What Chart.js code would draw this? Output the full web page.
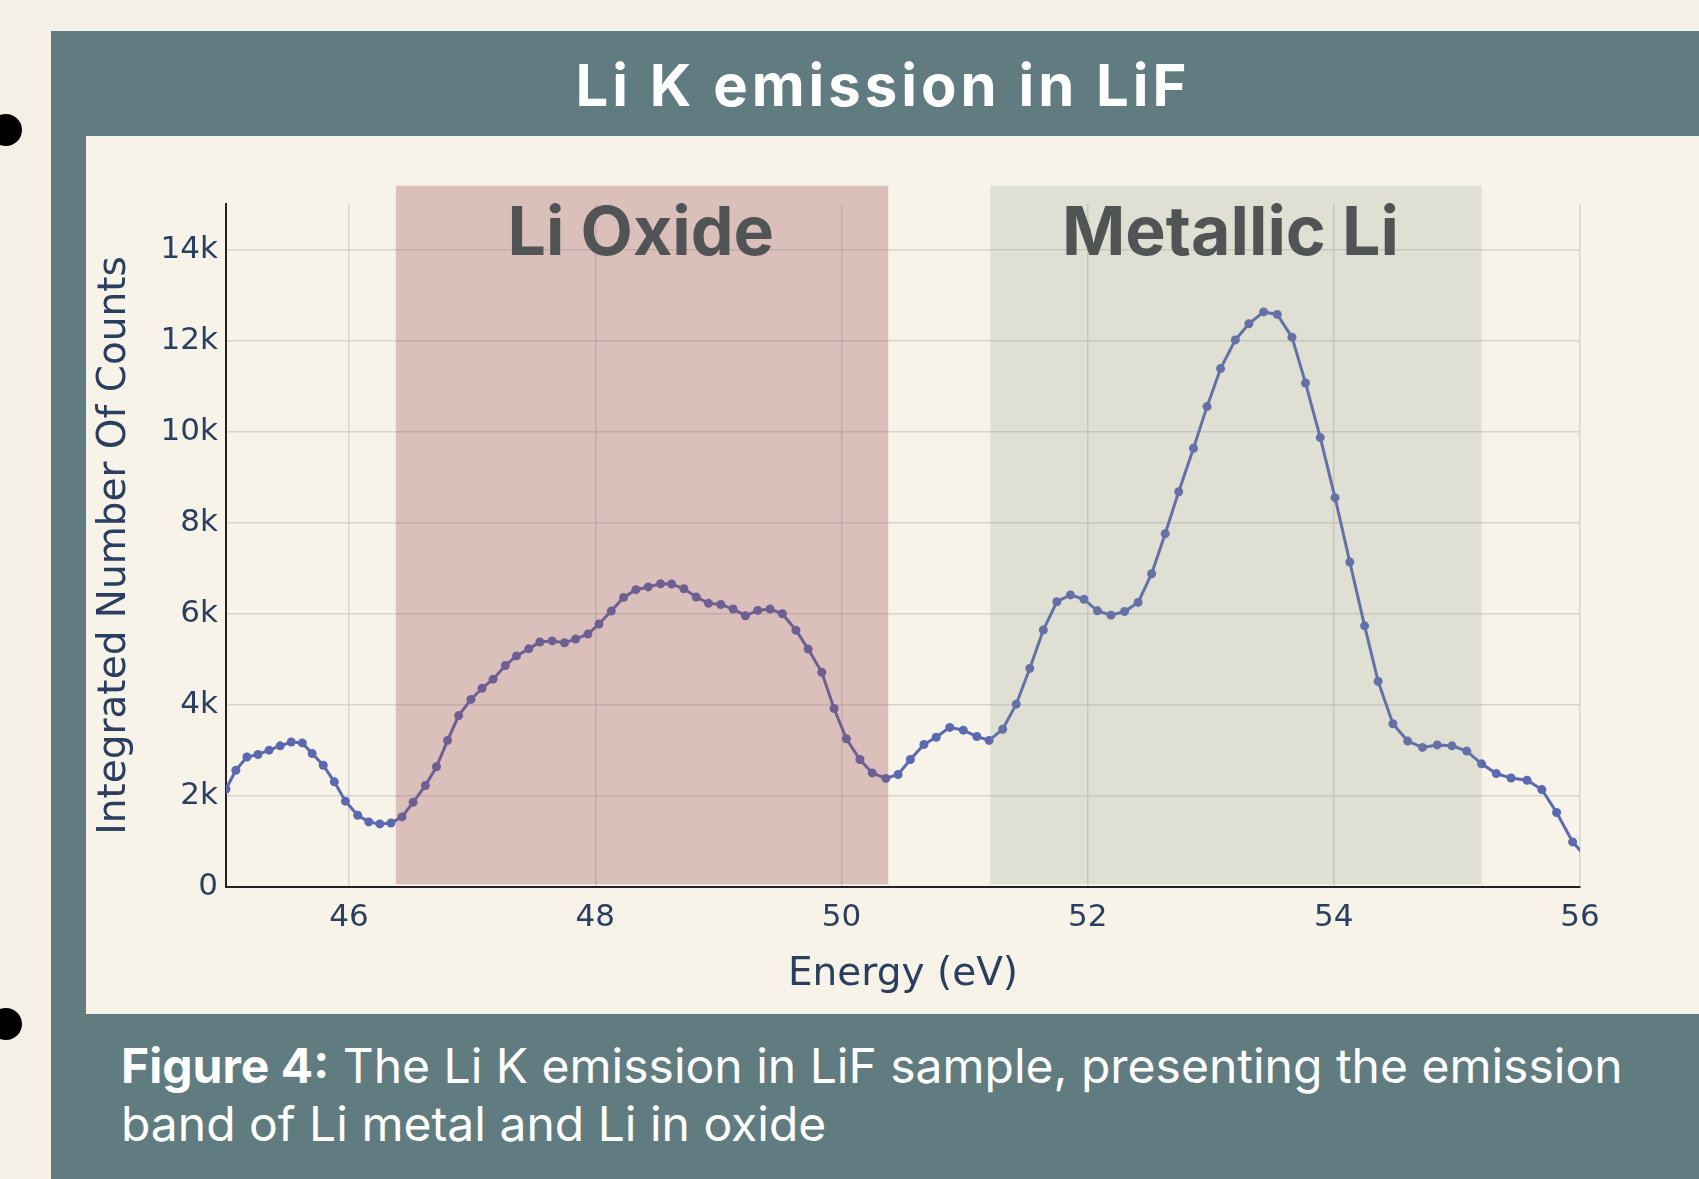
<!DOCTYPE html>
<html>
<head>
<meta charset="utf-8">
<title>Li K emission in LiF</title>
<script src="https://cdn.jsdelivr.net/npm/chart.js@4.4.1/dist/chart.umd.min.js"></script>
<style>
    html, body { margin: 0; padding: 0; }
    body {
        width: 1699px; height: 1179px; position: relative; overflow: hidden;
        background: #F5F0E6; font-family: Inter, "Noto Sans", sans-serif;
    }
    .dot { position: absolute; left: -10px; width: 32px; height: 32px; border-radius: 50%; background: #000; }
    .card { position: absolute; left: 51px; top: 31px; right: 0; bottom: 0; background: #617C80; }
    .title {
        position: absolute; left: 883px; top: 57px; transform: translateX(-50%);
        white-space: nowrap; color: #fff; font-weight: 700; font-size: 58px; line-height: 57px;
        letter-spacing: 4px;
    }
    .panel { position: absolute; left: 86px; top: 136px; width: 1613px; height: 878px; background: #F7F3E8; }
    #chart { position: absolute; left: 86px; top: 136px; }
    .caption {
        position: absolute; left: 121px; top: 1037px; color: #fff;
        font-size: 48px; line-height: 58px; white-space: nowrap;
    }
    .caption b { font-weight: 700; }
</style>
</head>
<body>
<div class="dot" style="top:114px"></div>
<div class="dot" style="top:1008px"></div>
<div class="card"></div>
<div class="title">Li K emission in LiF</div>
<div class="panel"></div>
<canvas id="chart" width="1613" height="878"></canvas>
<div class="caption"><b>Figure 4:</b> The Li K emission in LiF sample, presenting the emission<br>band of Li metal and Li in oxide</div>

<script>
    // Measured spectrum (energy in eV, integrated counts)
    const energy = [
        45.00, 45.08, 45.17, 45.26, 45.35, 45.44, 45.53, 45.62, 45.70, 45.79,
        45.88, 45.97, 46.07, 46.16, 46.25, 46.34, 46.43, 46.52, 46.62, 46.71,
        46.80, 46.89, 46.99, 47.08, 47.17, 47.27, 47.36, 47.46, 47.55, 47.65,
        47.75, 47.84, 47.94, 48.03, 48.13, 48.23, 48.33, 48.43, 48.53, 48.62,
        48.72, 48.82, 48.92, 49.02, 49.12, 49.22, 49.32, 49.42, 49.52, 49.63,
        49.73, 49.84, 49.94, 50.04, 50.15, 50.25, 50.36, 50.46, 50.56, 50.67,
        50.77, 50.88, 50.99, 51.10, 51.20, 51.31, 51.42, 51.53, 51.64, 51.75,
        51.86, 51.97, 52.08, 52.19, 52.30, 52.41, 52.52, 52.63, 52.74, 52.86,
        52.97, 53.08, 53.20, 53.31, 53.43, 53.54, 53.66, 53.77, 53.89, 54.01,
        54.13, 54.25, 54.36, 54.48, 54.60, 54.72, 54.84, 54.96, 55.08, 55.20,
        55.32, 55.44, 55.57, 55.69, 55.81, 55.94, 56.06
    ];
    const counts = [
        2150, 2565, 2855, 2910, 3005, 3100, 3185, 3165, 2930, 2675,
        2310, 1885, 1575, 1430, 1385, 1405, 1540, 1860, 2230, 2640,
        3220, 3765, 4120, 4365, 4565, 4865, 5075, 5230, 5380, 5405,
        5365, 5445, 5555, 5775, 6060, 6360, 6530, 6590, 6660, 6655,
        6550, 6370, 6230, 6205, 6105, 5955, 6075, 6105, 6000, 5640,
        5225, 4715, 3920, 3255, 2800, 2505, 2385, 2470, 2800, 3130,
        3290, 3505, 3445, 3305, 3220, 3465, 4015, 4800, 5645, 6265,
        6415, 6320, 6065, 5970, 6050, 6250, 6880, 7760, 8680, 9635,
        10550, 11385, 12015, 12370, 12630, 12575, 12075, 11070, 9870, 8550,
        7135, 5735, 4515, 3585, 3205, 3065, 3120, 3100, 2985, 2705,
        2490, 2395, 2345, 2140, 1635, 990, 620
    ];

    // Shaded emission bands
    const regionLabels = ['Li Oxide', 'Metallic Li'];
    const regionStart = [46.38, 51.21];
    const regionEnd = [50.38, 55.20];
    const regionLabelX = [48.37, 53.16];
    const regionColors = ['rgba(157, 73, 80, 0.3)', 'rgba(137, 143, 128, 0.2)'];
    const regionBottom = 60;
    const regionTop = 15400;
    const regionLabelY = 13870;

    const xTicks = [46, 48, 50, 52, 54, 56];
    const yTicks = [0, 2000, 4000, 6000, 8000, 10000, 12000, 14000];

    const axisFont = { family: '"DejaVu Sans", Verdana, sans-serif', size: 31 };
    const axisTitleFont = { family: '"DejaVu Sans", Verdana, sans-serif', size: 39 };
    const axisColor = '#2A3F5F';
    const gridColor = 'rgba(200, 200, 200, 0.7)';

    // Draws the two bands over the trace, like layer "above" shapes
    const regionPlugin = {
        id: 'regions',
        afterDatasetsDraw(chart) {
            const ctx = chart.ctx;
            const x = chart.scales.x;
            const y = chart.scales.y;
            ctx.save();
            regionLabels.forEach((label, i) => {
                const x0 = x.getPixelForValue(regionStart[i]);
                const x1 = x.getPixelForValue(regionEnd[i]);
                const y0 = y.getPixelForValue(regionTop);
                const y1 = y.getPixelForValue(regionBottom);
                ctx.fillStyle = regionColors[i];
                ctx.fillRect(x0, y0, x1 - x0, y1 - y0);
            });
            ctx.font = '700 68px Inter, sans-serif';
            ctx.fillStyle = '#505455';
            ctx.textAlign = 'center';
            ctx.textBaseline = 'alphabetic';
            regionLabels.forEach((label, i) => {
                ctx.fillText(label, x.getPixelForValue(regionLabelX[i]), y.getPixelForValue(regionLabelY));
            });
            ctx.restore();
        }
    };

    const ctx = document.getElementById('chart').getContext('2d');
    const spectrumChart = new Chart(ctx, {
        type: 'line',
        data: {
            datasets: [{
                data: energy.map((e, i) => ({ x: e, y: counts[i] })),
                borderColor: '#5B69B0',
                backgroundColor: '#5B69B0',
                borderWidth: 3,
                pointRadius: 4.5,
                pointBorderWidth: 0,
                pointBackgroundColor: '#5B69B0',
                tension: 0,
                fill: false
            }]
        },
        options: {
            responsive: false,
            animation: false,
            devicePixelRatio: 1,
            layout: { padding: { left: 0, right: 119, top: 68, bottom: 0 } },
            plugins: {
                legend: { display: false },
                tooltip: { enabled: false }
            },
            scales: {
                x: {
                    type: 'linear',
                    min: 45,
                    max: 56,
                    afterBuildTicks: scale => {
                        scale.ticks = xTicks.map(v => ({ value: v }));
                    },
                    afterFit: scale => { scale.height = 127; },
                    ticks: { color: axisColor, font: axisFont, padding: 12 },
                    grid: { color: gridColor, lineWidth: 1.5, drawTicks: false },
                    border: { display: true, color: '#222', width: 2 },
                    title: {
                        display: true, text: 'Energy (eV)', color: axisColor,
                        font: axisTitleFont, padding: { top: 0, bottom: 16 }
                    }
                },
                y: {
                    min: 0,
                    max: 15000,
                    afterBuildTicks: scale => {
                        scale.ticks = yTicks.map(v => ({ value: v }));
                    },
                    afterFit: scale => { scale.width = 140; },
                    ticks: {
                        color: axisColor, font: axisFont, padding: 8,
                        callback: v => v === 0 ? '0' : (v / 1000) + 'k'
                    },
                    grid: { color: gridColor, lineWidth: 1.5, drawTicks: false },
                    border: { display: true, color: '#222', width: 2 },
                    title: {
                        display: true, text: 'Integrated Number Of Counts', color: axisColor,
                        font: axisTitleFont, padding: { top: 5, bottom: 0 }
                    }
                }
            }
        },
        plugins: [regionPlugin]
    });
</script>
</body>
</html>
